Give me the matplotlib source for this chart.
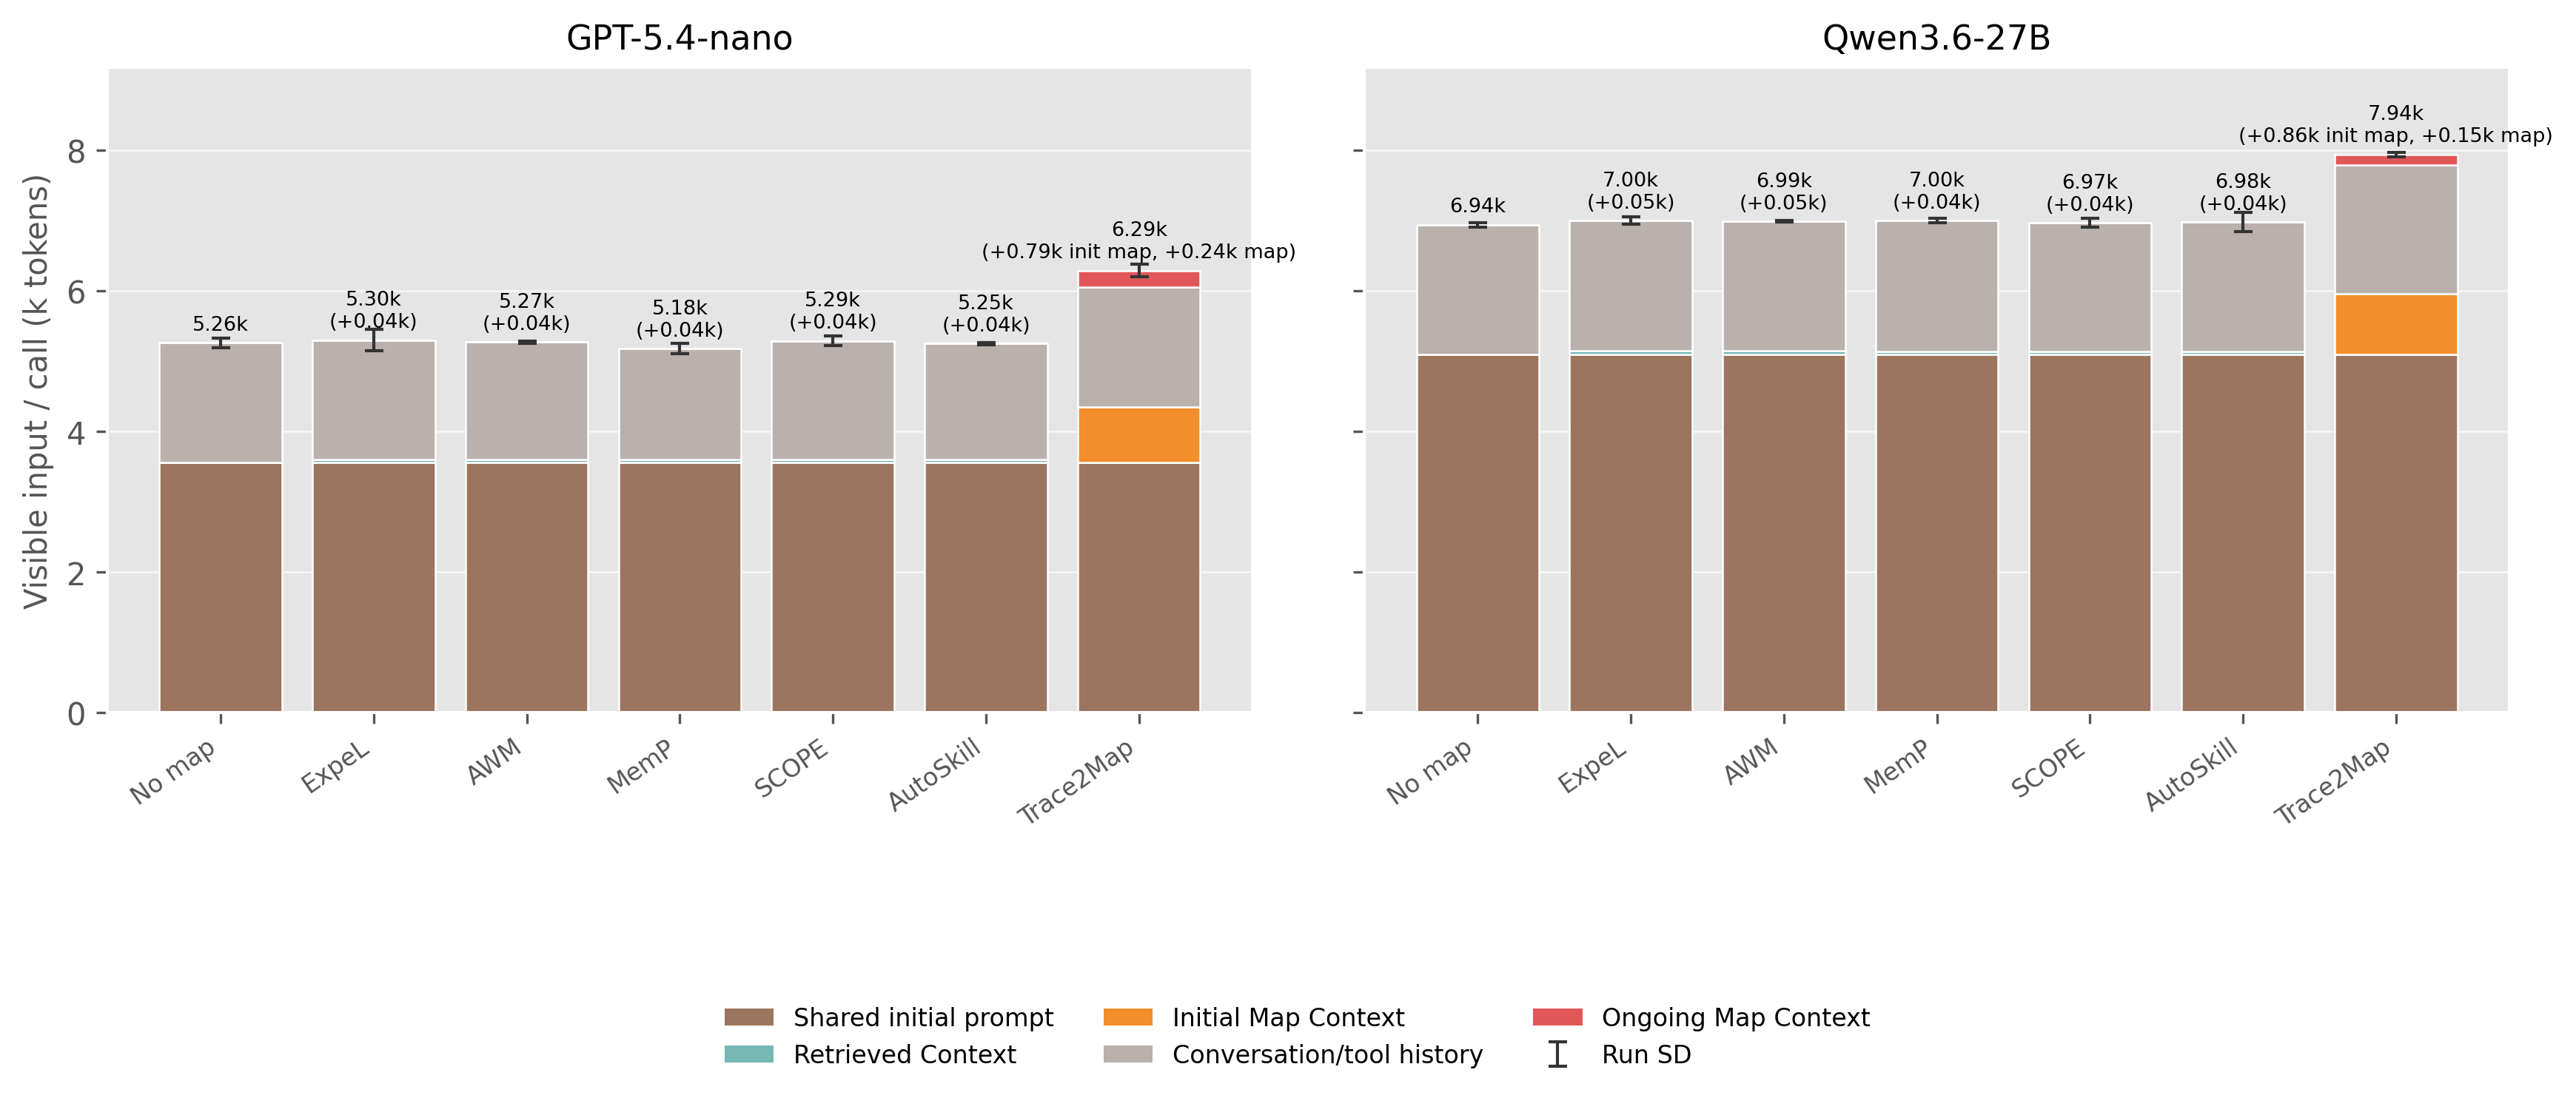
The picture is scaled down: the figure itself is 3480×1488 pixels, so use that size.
import matplotlib
matplotlib.use("Agg")
import matplotlib.pyplot as plt
import numpy as np
from matplotlib.patches import Patch

# ---------------------------------------------------------------------------
# Data (k tokens per call)
# ---------------------------------------------------------------------------
methods = ["No map", "ExpeL", "AWM", "MemP", "SCOPE", "AutoSkill", "Trace2Map"]
panels = ["GPT-5.4-nano", "Qwen3.6-27B"]

gpt_shared = [3.56, 3.56, 3.56, 3.56, 3.56, 3.56, 3.56]
gpt_retrieved = [0.0, 0.04, 0.04, 0.04, 0.04, 0.04, 0.0]
gpt_init_map = [0.0, 0.0, 0.0, 0.0, 0.0, 0.0, 0.79]
gpt_history = [1.70, 1.70, 1.67, 1.58, 1.69, 1.65, 1.70]
gpt_ongoing = [0.0, 0.0, 0.0, 0.0, 0.0, 0.0, 0.24]
gpt_sd = [0.065, 0.15, 0.015, 0.075, 0.07, 0.015, 0.09]

qwen_shared = [5.10, 5.10, 5.10, 5.10, 5.10, 5.10, 5.10]
qwen_retrieved = [0.0, 0.05, 0.05, 0.04, 0.04, 0.04, 0.0]
qwen_init_map = [0.0, 0.0, 0.0, 0.0, 0.0, 0.0, 0.86]
qwen_history = [1.84, 1.85, 1.84, 1.86, 1.83, 1.84, 1.83]
qwen_ongoing = [0.0, 0.0, 0.0, 0.0, 0.0, 0.0, 0.15]
qwen_sd = [0.033, 0.05, 0.01, 0.03, 0.06, 0.14, 0.03]

COLORS = {
    "shared": "#9C755F",
    "retrieved": "#76B7B2",
    "init": "#F28E2B",
    "history": "#BAB0AC",
    "ongoing": "#E15759",
}

plt.style.use("ggplot")
plt.rcParams["font.family"] = ["DejaVu Sans"]


def draw_panel(ax, title, shared, retrieved, init_map, history, ongoing, sd):
    x = np.arange(len(methods))
    layers = [
        (shared, COLORS["shared"]),
        (retrieved, COLORS["retrieved"]),
        (init_map, COLORS["init"]),
        (history, COLORS["history"]),
        (ongoing, COLORS["ongoing"]),
    ]
    bottom = np.zeros(len(methods))
    for vals, color in layers:
        vals = np.asarray(vals)
        ax.bar(x, vals, 0.8, bottom=bottom, color=color,
               edgecolor="white", linewidth=0.6, zorder=2)
        bottom = bottom + vals
    total = bottom

    err = ax.errorbar(x, total, yerr=sd, fmt="none", ecolor="#333333",
                      elinewidth=1.0, capsize=3, capthick=1.0, zorder=3)

    for i in range(len(methods)):
        lab = f"{total[i]:.2f}k"
        if init_map[i] > 0:
            lab += f"\n(+{init_map[i]:.2f}k init map, +{ongoing[i]:.2f}k map)"
        elif retrieved[i] > 0:
            lab += f"\n(+{retrieved[i]:.2f}k)"
        ax.text(x[i], total[i] + 0.12, lab, ha="center", va="bottom",
                fontsize=6.5, color="black", zorder=4)

    ax.set_title(title, fontsize=11, color="black")
    ax.set_xticks(x)
    ax.set_xticklabels(methods, rotation=35, ha="right", fontsize=8)
    ax.grid(axis="x", visible=False)
    ax.grid(axis="y", color="white", linewidth=0.6, alpha=0.7)
    ax.set_axisbelow(True)
    ax.tick_params(axis="y", labelsize=10)
    return err


fig, axes = plt.subplots(1, 2, figsize=(11.6, 4.9633), sharey=True)
fig.subplots_adjust(left=0.0417, right=0.9741, top=0.9382, bottom=0.3526,
                    wspace=0.098)

draw_panel(axes[0], panels[0], gpt_shared, gpt_retrieved, gpt_init_map,
           gpt_history, gpt_ongoing, gpt_sd)
sd_handle = draw_panel(axes[1], panels[1], qwen_shared, qwen_retrieved,
                       qwen_init_map, qwen_history, qwen_ongoing, qwen_sd)

axes[0].set_ylim(0, 9.18)
axes[0].set_yticks([0, 2, 4, 6, 8])
axes[0].set_ylabel("Visible input / call (k tokens)", fontsize=10)

# legend (column-major order, 3 columns)
handles = [
    Patch(facecolor=COLORS["shared"], label="Shared initial prompt"),
    Patch(facecolor=COLORS["retrieved"], label="Retrieved Context"),
    Patch(facecolor=COLORS["init"], label="Initial Map Context"),
    Patch(facecolor=COLORS["history"], label="Conversation/tool history"),
    Patch(facecolor=COLORS["ongoing"], label="Ongoing Map Context"),
]
labels = [h.get_label() for h in handles] + ["Run SD"]
handles.append(sd_handle)
fig.legend(handles, labels, loc="lower center", ncol=3, frameon=False,
           fontsize=8, bbox_to_anchor=(0.5037, 0.01))

fig.savefig("out.png", dpi=300)
